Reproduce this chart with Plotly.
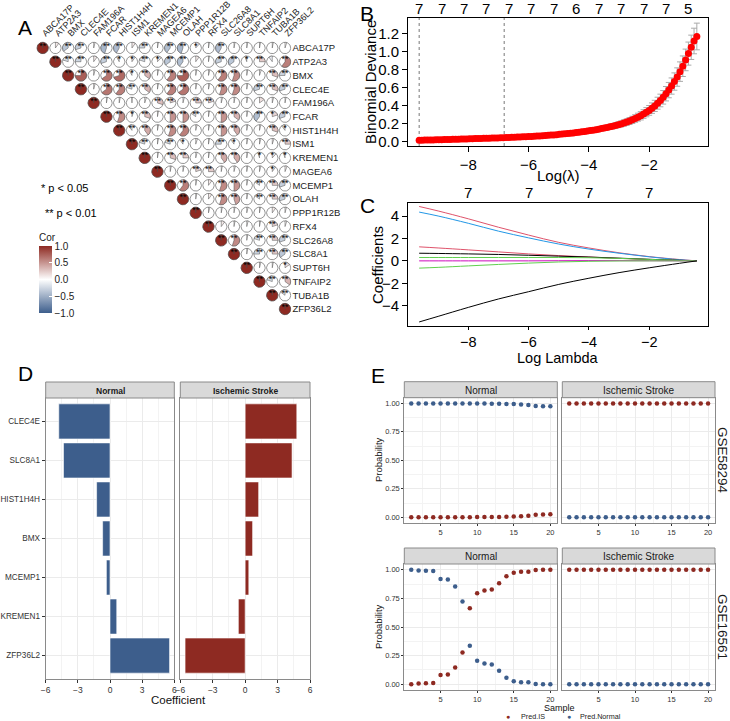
import numpy as np
import plotly.graph_objects as go

W, H = 730, 721
FONT = "Liberation Sans, Arial, Helvetica, sans-serif"


def px(x):
    return x / W


def py(y):
    return 1 - y / H


# ---------------- Panel A data: correlation (upper triangle, row i from column i) ----------------
genes = ["ABCA17P", "ATP2A3", "BMX", "CLEC4E", "FAM196A", "FCAR", "HIST1H4H", "ISM1", "KREMEN1",
         "MAGEA6", "MCEMP1", "OLAH", "PPP1R12B", "RFX4", "SLC26A8", "SLC8A1", "SUPT6H", "TNFAIP2",
         "TUBA1B", "ZFP36L2"]

cor_upper = [
    [1, 0.1, -0.35, -0.3, 0.04, -0.45, -0.42, 0.1, -0.25, 0.03, -0.4, -0.45, 0.12, 0.03, -0.42, 0.03, 0.03, 0.03, 0.03, 0.05],
    [1, -0.2, -0.25, 0.1, -0.3, -0.08, 0.1, -0.2, 0.12, -0.35, -0.4, 0.1, 0.03, -0.3, -0.35, -0.05, 0.25, -0.1, 0.6],
    [1, 0.75, 0.04, 0.65, 0.7, -0.08, 0.35, 0.03, 0.6, 0.75, 0.03, 0.04, 0.6, 0.55, 0.03, 0.05, 0.3, -0.25],
    [1, 0.04, 0.65, 0.6, -0.2, 0.35, 0.03, 0.6, 0.65, 0.03, 0.04, 0.55, 0.55, 0.03, -0.3, 0.3, -0.3],
    [1, 0.03, 0.03, 0.02, 0.05, 0.3, 0.2, 0.04, 0.25, 0.2, 0.04, 0.03, 0.03, 0.15, 0.04, 0.03],
    [1, 0.55, 0.05, 0.3, 0.03, 0.5, 0.5, -0.15, 0.03, 0.5, 0.35, 0.03, -0.4, 0.2, -0.3],
    [1, -0.1, 0.4, 0.03, 0.55, 0.6, 0.04, 0.03, 0.5, 0.4, 0.03, 0.04, 0.3, -0.1],
    [1, -0.2, 0.03, -0.2, -0.1, 0.05, 0.03, -0.25, -0.1, 0.03, 0.04, 0.05, 0.25],
    [1, 0.03, 0.3, 0.25, 0.04, 0.03, 0.4, 0.4, 0.03, -0.05, 0.12, -0.05],
    [1, 0.03, 0.03, 0.2, 0.25, 0.03, 0.04, 0.03, 0.04, 0.1, 0.06],
    [1, 0.6, 0.03, 0.1, 0.55, 0.5, 0.03, -0.15, 0.25, -0.3],
    [1, 0.03, 0.1, 0.55, 0.45, 0.03, -0.15, 0.25, -0.3],
    [1, 0.04, 0.03, 0.03, 0.04, 0.03, 0.1, 0.04],
    [1, 0.1, 0.03, 0.04, 0.03, 0.2, 0.05],
    [1, 0.55, 0.03, -0.2, 0.25, -0.3],
    [1, 0.03, -0.25, 0.25, -0.35],
    [1, 0.04, 0.03, 0.15],
    [1, -0.2, 0.35],
    [1, -0.15],
    [1],
]
sig_upper = [
    [2, 0, 2, 2, 0, 2, 2, 0, 2, 0, 2, 2, 1, 0, 2, 0, 0, 0, 0, 0],
    [2, 2, 2, 0, 2, 1, 1, 2, 1, 2, 2, 0, 0, 2, 2, 1, 2, 0, 2],
    [2, 2, 0, 2, 2, 1, 2, 0, 2, 2, 0, 0, 2, 2, 0, 0, 2, 2],
    [2, 0, 2, 2, 2, 2, 0, 2, 2, 0, 0, 2, 2, 0, 2, 2, 2],
    [2, 0, 0, 0, 0, 2, 2, 0, 2, 2, 0, 0, 0, 0, 0, 0],
    [2, 2, 1, 2, 0, 2, 2, 2, 0, 2, 2, 0, 2, 1, 2],
    [2, 2, 2, 0, 2, 2, 0, 0, 2, 2, 0, 0, 2, 1],
    [2, 2, 0, 2, 1, 0, 0, 2, 1, 0, 0, 0, 2],
    [2, 0, 2, 2, 0, 0, 2, 2, 0, 1, 1, 1],
    [2, 0, 0, 2, 2, 0, 0, 0, 0, 1, 0],
    [2, 2, 0, 0, 2, 2, 0, 2, 2, 2],
    [2, 0, 0, 2, 2, 0, 2, 2, 2],
    [2, 0, 0, 0, 0, 0, 0, 0],
    [2, 0, 0, 0, 0, 2, 0],
    [2, 2, 0, 2, 2, 2],
    [2, 0, 2, 2, 2],
    [2, 0, 0, 1],
    [2, 2, 2],
    [2, 2],
    [2],
]

# ---------------- Panel B data: cross-validation curve ----------------
cv_loglam = np.linspace(-9.63, -0.42, 100)  # glmnet lambda grid (log-spaced)
cv_mean = [
    0.020, 0.020, 0.021, 0.021, 0.022, 0.022, 0.023, 0.024, 0.025, 0.026,
    0.027, 0.028, 0.029, 0.030, 0.031, 0.032, 0.033, 0.034, 0.035, 0.036,
    0.037, 0.038, 0.039, 0.040, 0.041, 0.042, 0.043, 0.044, 0.045, 0.046,
    0.047, 0.048, 0.050, 0.051, 0.052, 0.054, 0.055, 0.057, 0.058, 0.060,
    0.061, 0.063, 0.065, 0.067, 0.069, 0.071, 0.073, 0.076, 0.078, 0.081,
    0.084, 0.087, 0.090, 0.093, 0.096, 0.100, 0.104, 0.108, 0.112, 0.116,
    0.121, 0.126, 0.131, 0.136, 0.142, 0.148, 0.154, 0.161, 0.168, 0.175,
    0.183, 0.191, 0.200, 0.210, 0.220, 0.232, 0.245, 0.260, 0.275, 0.290,
    0.310, 0.330, 0.350, 0.375, 0.400, 0.430, 0.460, 0.495, 0.535, 0.575,
    0.620, 0.670, 0.720, 0.780, 0.840, 0.910, 0.980, 1.050, 1.120, 1.170,
]
cv_sd = [
    0.004, 0.004, 0.004, 0.004, 0.004, 0.004, 0.004, 0.005, 0.005, 0.005,
    0.005, 0.005, 0.005, 0.005, 0.005, 0.006, 0.006, 0.006, 0.006, 0.006,
    0.006, 0.006, 0.007, 0.007, 0.007, 0.007, 0.007, 0.007, 0.008, 0.008,
    0.008, 0.008, 0.008, 0.009, 0.009, 0.009, 0.009, 0.010, 0.010, 0.010,
    0.010, 0.011, 0.011, 0.011, 0.012, 0.012, 0.012, 0.013, 0.013, 0.014,
    0.014, 0.015, 0.015, 0.016, 0.016, 0.017, 0.017, 0.018, 0.019, 0.019,
    0.020, 0.021, 0.022, 0.023, 0.024, 0.025, 0.026, 0.027, 0.028, 0.029,
    0.030, 0.032, 0.033, 0.035, 0.036, 0.038, 0.040, 0.042, 0.044, 0.046,
    0.048, 0.051, 0.054, 0.058, 0.062, 0.066, 0.070, 0.075, 0.080, 0.085,
    0.090, 0.096, 0.102, 0.108, 0.114, 0.120, 0.128, 0.135, 0.142, 0.148,
]
lambda_min_log = -9.63
lambda_1se_log = -6.81
df_counts = ["7", "7", "7", "7", "7", "7", "7", "6", "7", "7", "7", "7", "5"]

# ---------------- Panel C data: coefficient paths ----------------
path_loglam = [-9.63, -9.0, -8.0, -7.0, -6.0, -5.0, -4.0, -3.0, -2.0, -1.0, -0.42]
path_colors = ["#DF536B", "#2297E6", "#DF536B", "#000000", "#61D04F", "#CD0BBC", "#61D04F", "#000000"]
path_values = [
    [4.85, 4.45, 3.75, 3.00, 2.30, 1.65, 1.15, 0.72, 0.38, 0.12, 0.0],
    [4.35, 4.00, 3.35, 2.65, 2.05, 1.50, 1.05, 0.68, 0.36, 0.10, 0.0],
    [1.25, 1.15, 0.98, 0.80, 0.62, 0.47, 0.34, 0.22, 0.12, 0.04, 0.0],
    [0.68, 0.66, 0.62, 0.57, 0.50, 0.42, 0.34, 0.24, 0.14, 0.05, 0.0],
    [0.30, 0.30, 0.30, 0.30, 0.30, 0.30, 0.28, 0.22, 0.13, 0.04, 0.0],
    [0.00, 0.00, 0.00, 0.00, 0.00, 0.01, 0.02, 0.02, 0.01, 0.00, 0.0],
    [-0.65, -0.58, -0.45, -0.32, -0.20, -0.10, -0.04, -0.01, 0.0, 0.0, 0.0],
    [-5.45, -4.95, -4.15, -3.40, -2.75, -2.10, -1.55, -1.05, -0.62, -0.22, 0.0],
]
c_top_ticks = [-8, -6, -4, -2]
c_top_counts = ["7", "7", "7", "7"]

# ---------------- Panel D data ----------------
coef_genes = ["CLEC4E", "SLC8A1", "HIST1H4H", "BMX", "MCEMP1", "KREMEN1", "ZFP36L2"]
coef_normal = [-4.78, -4.34, -1.25, -0.69, -0.34, 0.63, 5.56]
coef_is = [4.78, 4.34, 1.25, 0.69, 0.34, -0.63, -5.56]

# ---------------- Panel E data ----------------
samples = list(range(1, 21))
g58294_normal_predIS = [0.001, 0.001, 0.001, 0.001, 0.001, 0.001, 0.001, 0.001, 0.001, 0.002,
                        0.002, 0.003, 0.003, 0.005, 0.006, 0.009, 0.014, 0.023, 0.024, 0.026]
g58294_normal_predN = [0.999, 0.999, 0.999, 0.999, 0.999, 0.999, 0.999, 0.999, 0.999, 0.998,
                       0.998, 0.997, 0.997, 0.995, 0.994, 0.991, 0.986, 0.977, 0.976, 0.974]
g58294_is_predIS = [0.999, 0.999, 0.999, 0.999, 0.999, 0.999, 0.999, 0.999, 0.999, 0.999,
                    0.999, 0.999, 0.999, 0.999, 0.999, 0.999, 0.999, 0.999, 0.999, 0.999]
g58294_is_predN = [0.001, 0.001, 0.001, 0.001, 0.001, 0.001, 0.001, 0.001, 0.001, 0.001,
                   0.001, 0.001, 0.001, 0.001, 0.001, 0.001, 0.001, 0.001, 0.001, 0.001]
g16561_normal_predIS = [0.001, 0.006, 0.010, 0.012, 0.082, 0.085, 0.146, 0.278, 0.664, 0.795,
                        0.819, 0.828, 0.883, 0.944, 0.974, 0.982, 0.982, 0.997, 0.999, 0.999]
g16561_normal_predN = [0.999, 0.994, 0.990, 0.988, 0.918, 0.915, 0.854, 0.722, 0.336, 0.205,
                       0.181, 0.172, 0.117, 0.056, 0.026, 0.018, 0.018, 0.003, 0.001, 0.001]
g16561_is_predIS = [0.999, 0.999, 0.999, 0.999, 0.999, 0.999, 0.999, 0.999, 0.999, 0.999,
                    0.999, 0.999, 0.999, 0.999, 0.999, 0.999, 0.999, 0.999, 0.999, 0.999]
g16561_is_predN = [0.001, 0.001, 0.001, 0.001, 0.001, 0.001, 0.001, 0.001, 0.001, 0.001,
                   0.001, 0.001, 0.001, 0.001, 0.001, 0.001, 0.001, 0.001, 0.001, 0.001]

# ---------------- styles ----------------
RED = "#8E2A22"
BLUE = "#3D5E8C"
STRIP_FILL = "#D9D9D9"
BORDER = "#8A8A8A"
GRID = "#EBEBEB"
MINOR = "#F3F3F3"

fig = go.Figure()


def hex2rgb(h):
    h = h.lstrip("#")
    return tuple(int(h[i:i + 2], 16) for i in (0, 2, 4))


def cor_color(r):
    tgt = hex2rgb(RED if r >= 0 else BLUE)
    t = min(abs(r), 1.0)
    c = [round(255 + (tc - 255) * t) for tc in tgt]
    return "rgb(%d,%d,%d)" % tuple(c)


# ---------------- Panel A ----------------
# cell geometry in axis units (x spacing 12.78 px, y spacing 13.74 px, radius ~5.7 px)
RX, RY = 5.7 / 12.78, 5.7 / 13.74
circ_x, circ_y = [], []
theta = np.linspace(0, 2 * np.pi, 61)
star_x, star_y, star_t = [], [], []
for i, row in enumerate(cor_upper):
    for k, r in enumerate(row):
        j = i + k  # column index
        cx, cy = j, -i
        circ_x += list(cx + RX * np.cos(theta)) + [None]
        circ_y += list(cy + RY * np.sin(theta)) + [None]
        s = sig_upper[i][k]
        if s > 0:
            star_x.append(cx)
            star_y.append(cy + 0.12)
            star_t.append("*" * s)

fig.add_trace(go.Scatter(x=circ_x, y=circ_y, mode="lines", fill="toself", fillcolor="white",
                         line=dict(color="#4D4D4D", width=0.6), hoverinfo="skip", xaxis="x", yaxis="y"))
for i, row in enumerate(cor_upper):
    for k, r in enumerate(row):
        j = i + k
        cx, cy = j, -i
        span = abs(r) * 2 * np.pi
        n = max(2, int(np.ceil(60 * abs(r))) + 1)
        th = np.linspace(0, span, n)
        sgn = 1 if r >= 0 else -1
        a = np.pi / 2 - sgn * th
        xs = [cx] + list(cx + RX * np.cos(a)) + [cx]
        ys = [cy] + list(cy + RY * np.sin(a)) + [cy]
        fig.add_trace(go.Scatter(x=xs, y=ys, mode="lines", fill="toself", fillcolor=cor_color(r),
                                 line=dict(color="#4D4D4D", width=0.5), hoverinfo="skip",
                                 xaxis="x", yaxis="y"))
fig.add_trace(go.Scatter(x=star_x, y=star_y, mode="text", text=star_t,
                         textfont=dict(family=FONT, size=9, color="black"),
                         hoverinfo="skip", xaxis="x", yaxis="y"))
# colour legend
fig.add_trace(go.Scatter(x=[0], y=[0], mode="markers", hoverinfo="skip", xaxis="x", yaxis="y",
                         marker=dict(size=1, opacity=0, color=[0], cmin=-1, cmax=1,
                                     colorscale=[[0, BLUE], [0.5, "#FFFFFF"], [1, RED]],
                                     showscale=True,
                                     colorbar=dict(x=px(39), xanchor="left", xpad=0, ypad=0,
                                                   y=py(313), yanchor="bottom", len=83, lenmode="pixels",
                                                   thickness=13, thicknessmode="pixels", outlinewidth=0,
                                                   tickvals=[-1, -0.5, 0, 0.5, 1], tickformat=".1f",
                                                   ticks="inside", ticklen=3, tickcolor="white",
                                                   tickfont=dict(family=FONT, size=10, color="#222"),
                                                   title=dict(text="Cor", side="top",
                                                              font=dict(family=FONT, size=10, color="#222"))))))

# ---------------- Panel B ----------------
fig.add_trace(go.Scatter(x=[lambda_min_log, lambda_min_log], y=[-0.045, 1.375], mode="lines",
                         line=dict(color="#555", width=0.8, dash="dot"), xaxis="x2", yaxis="y2"))
fig.add_trace(go.Scatter(x=[lambda_1se_log, lambda_1se_log], y=[-0.045, 1.375], mode="lines",
                         line=dict(color="#555", width=0.8, dash="dot"), xaxis="x2", yaxis="y2"))
fig.add_trace(go.Scatter(x=cv_loglam, y=cv_mean, mode="markers", xaxis="x2", yaxis="y2",
                         marker=dict(color="#FF0000", size=7),
                         error_y=dict(type="data", array=cv_sd, color="#AAAAAA", thickness=1, width=3)))

# ---------------- Panel C ----------------
for col, vals in zip(path_colors, path_values):
    fig.add_trace(go.Scatter(x=path_loglam, y=vals, mode="lines", line=dict(color=col, width=1, shape="spline"),
                             xaxis="x3", yaxis="y3"))

# ---------------- Panel D ----------------
fig.add_trace(go.Bar(y=coef_genes, x=coef_normal, orientation="h", width=0.9,
                     marker=dict(color=BLUE, line=dict(color="white", width=0.6)), xaxis="x4", yaxis="y4"))
fig.add_trace(go.Bar(y=coef_genes, x=coef_is, orientation="h", width=0.9,
                     marker=dict(color=RED, line=dict(color="white", width=0.6)), xaxis="x5", yaxis="y5"))

# ---------------- Panel E ----------------
E_sets = [("x6", "y6", g58294_normal_predIS, g58294_normal_predN),
          ("x7", "y7", g58294_is_predIS, g58294_is_predN),
          ("x8", "y8", g16561_normal_predIS, g16561_normal_predN),
          ("x9", "y9", g16561_is_predIS, g16561_is_predN)]
for xa, ya, pis, pn in E_sets:
    fig.add_trace(go.Scatter(x=samples, y=pis, mode="markers", marker=dict(color=RED, size=4.5),
                             name="Pred.IS", xaxis=xa, yaxis=ya))
    fig.add_trace(go.Scatter(x=samples, y=pn, mode="markers", marker=dict(color=BLUE, size=4.5),
                             name="Pred.Normal", xaxis=xa, yaxis=ya))

# ---------------- layout ----------------
lay = dict(width=W, height=H, margin=dict(l=0, r=0, t=0, b=0, autoexpand=False), showlegend=False,
           paper_bgcolor="white", plot_bgcolor="white", font=dict(family=FONT, color="black"))

# A axes
lay["xaxis"] = dict(domain=[px(36.3), px(291.4)], range=[-0.5, 19.5], side="top", anchor="y",
                    tickmode="array", tickvals=list(range(20)), ticktext=genes, tickangle=-45,
                    tickfont=dict(size=9, color="#1A1A1A"), ticks="", showgrid=False, zeroline=False,
                    showline=False, automargin=False)
lay["yaxis"] = dict(domain=[py(315.9), py(41.1)], range=[-19.5, 0.5], side="right", anchor="x",
                    tickmode="array", tickvals=[-i for i in range(20)], ticktext=genes,
                    tickfont=dict(size=9.5, color="#1A1A1A"), ticks="", showgrid=False, zeroline=False,
                    showline=False, automargin=False)


def base_axis(**kw):
    d = dict(showline=True, mirror=True, linecolor="black", linewidth=1, ticks="outside", ticklen=5,
             tickcolor="black", tickfont=dict(size=15, color="black"), showgrid=False, zeroline=False,
             automargin=False)
    d.update(kw)
    return d


lay["xaxis2"] = base_axis(domain=[px(408), px(708)], range=[-10.0, -0.05], anchor="y2",
                          tickvals=[-8, -6, -4, -2])
lay["yaxis2"] = base_axis(domain=[py(146), py(18)], range=[-0.045, 1.375], anchor="x2",
                          tickvals=[0, 0.2, 0.4, 0.6, 0.8, 1.0, 1.2], tickformat=".1f")
lay["xaxis3"] = base_axis(domain=[px(408), px(708)], range=[-10.0, -0.05], anchor="y3",
                          tickvals=[-8, -6, -4, -2], ticklen=3, tickfont=dict(size=14.5, color="black"))
lay["yaxis3"] = base_axis(domain=[py(326), py(203)], range=[-5.81, 5.16], anchor="x3",
                          tickvals=[-4, -2, 0, 2, 4])


def gg_x(domain, anchor, rng, tickvals, minor_vals, fs, show_labels=True, ticklen=3):
    return dict(domain=domain, anchor=anchor, range=rng, tickvals=tickvals, showline=True, mirror=True,
                linecolor=BORDER, linewidth=1, ticks="outside", ticklen=ticklen, tickcolor="#333",
                tickfont=dict(size=fs, color="#333"), showgrid=True, gridcolor=GRID, gridwidth=0.8,
                zeroline=False, showticklabels=show_labels, automargin=False,
                minor=dict(tickvals=minor_vals, showgrid=True, gridcolor=MINOR, gridwidth=0.5, ticks=""))


# D axes
dy = [py(679), py(398)]
lay["xaxis4"] = gg_x([px(45.7), px(174.3)], "y4", [-6, 6], [-6, -3, 0, 3, 6], [-4.5, -1.5, 1.5, 4.5], 8.5)
lay["xaxis5"] = gg_x([px(180.3), px(310)], "y5", [-6, 6], [-6, -3, 0, 3, 6], [-4.5, -1.5, 1.5, 4.5], 8.5)
ycat = dict(type="category", categoryorder="array", categoryarray=coef_genes, range=[6.6, -0.6],
            showline=True, mirror=True, linecolor=BORDER, linewidth=1, showgrid=True, gridcolor=GRID,
            gridwidth=0.8, zeroline=False, automargin=False)
lay["yaxis4"] = dict(ycat, domain=dy, anchor="x4", ticks="outside", ticklen=3, tickcolor="#333",
                     tickfont=dict(size=8.2, color="#333"))
lay["yaxis5"] = dict(ycat, domain=dy, anchor="x5", ticks="", showticklabels=False)

# E axes
ex_l, ex_r = [px(404.3), px(557.3)], [px(562.3), px(715)]
ey_t, ey_b = [py(523), py(397.7)], [py(690), py(564)]
for n, (xd, yd, showy) in zip([6, 7, 8, 9], [(ex_l, ey_t, True), (ex_r, ey_t, False),
                                               (ex_l, ey_b, True), (ex_r, ey_b, False)]):
    lay["xaxis%d" % n] = gg_x(xd, "y%d" % n, [0.05, 20.95], [5, 10, 15, 20], [2.5, 7.5, 12.5, 17.5], 7.5,
                              ticklen=2)
    ya = gg_x(yd, "x%d" % n, [-0.05, 1.05], [0, 0.25, 0.5, 0.75, 1.0], [0.125, 0.375, 0.625, 0.875], 7.5,
              show_labels=showy, ticklen=2)
    ya["tickformat"] = ".2f"
    if not showy:
        ya["ticks"] = ""
    lay["yaxis%d" % n] = ya

shapes = []
annotations = []


def ann(text, x, y, size, color="black", xanchor="center", yanchor="middle", angle=0, xref="paper", **kw):
    annotations.append(dict(text=text, x=x if xref != "paper" else px(x), y=py(y), xref=xref, yref="paper",
                            showarrow=False, xanchor=xanchor, yanchor=yanchor, textangle=angle,
                            font=dict(family=FONT, size=size, color=color), **kw))


# panel letters
for L, x, y in [("A", 25, 28), ("B", 367, 14), ("C", 367, 205), ("D", 25, 373), ("E", 378, 375)]:
    ann(L, x, y, 21)

# A notes
ann("* p < 0.05", 39, 188, 11, xanchor="left")
ann("** p < 0.01", 43, 213, 11, xanchor="left")

# B / C titles and df labels
ann("Binomial Deviance", 371, 82, 15, angle=-90)
ann("Log(λ)", 558, 175, 15)
for pos, t in zip(cv_loglam[0::8], df_counts):
    ann(t, float(pos), 9, 15, xref="x2")
ann("Coefficients", 377, 265, 15, angle=-90)
ann("Log Lambda", 558, 357.5, 14.5)
for pos, t in zip(c_top_ticks, c_top_counts):
    ann(t, pos, 192, 15, xref="x3")

# D strips
for (x0, x1), lab in zip([(45.7, 174.3), (180.3, 310)], ["Normal", "Ischemic Stroke"]):
    shapes.append(dict(type="rect", xref="paper", yref="paper", x0=px(x0), x1=px(x1), y0=py(398), y1=py(382),
                       fillcolor=STRIP_FILL, line=dict(color=BORDER, width=1)))
    ann("<b>%s</b>" % lab, (x0 + x1) / 2, 390.5, 8.5, color="#1A1A1A")
ann("Coefficient", 178, 700, 11.5, color="#111")

# E strips
for (x0, x1), lab in zip([(404.3, 557.3), (562.3, 715)], ["Normal", "Ischemic Stroke"]):
    for (s0, s1) in [(381.7, 397.7), (548, 564)]:
        shapes.append(dict(type="rect", xref="paper", yref="paper", x0=px(x0), x1=px(x1), y0=py(s1), y1=py(s0),
                           fillcolor=STRIP_FILL, line=dict(color=BORDER, width=1)))
        ann(lab, (x0 + x1) / 2, (s0 + s1) / 2 + 0.5, 10, color="#1A1A1A")
ann("GSE58294", 723, 460, 13.5, angle=90, color="#1A1A1A")
ann("GSE16561", 723, 627, 13.5, angle=90, color="#1A1A1A")
ann("Probability", 378, 460, 9.5, angle=-90, color="#111")
ann("Probability", 378, 627, 9.5, angle=-90, color="#111")
ann("Sample", 559.6, 707.5, 9, color="#111")
# E legend
ann("●", 508, 716.3, 7, color=RED)
ann("Pred.IS", 519, 716.3, 7.2, color="#222", xanchor="left")
ann("●", 569, 716.3, 7, color=BLUE)
ann("Pred.Normal", 578, 716.3, 7.2, color="#222", xanchor="left")

lay["shapes"] = shapes
lay["annotations"] = annotations
fig.update_layout(**lay)
fig.write_html("out.html")
